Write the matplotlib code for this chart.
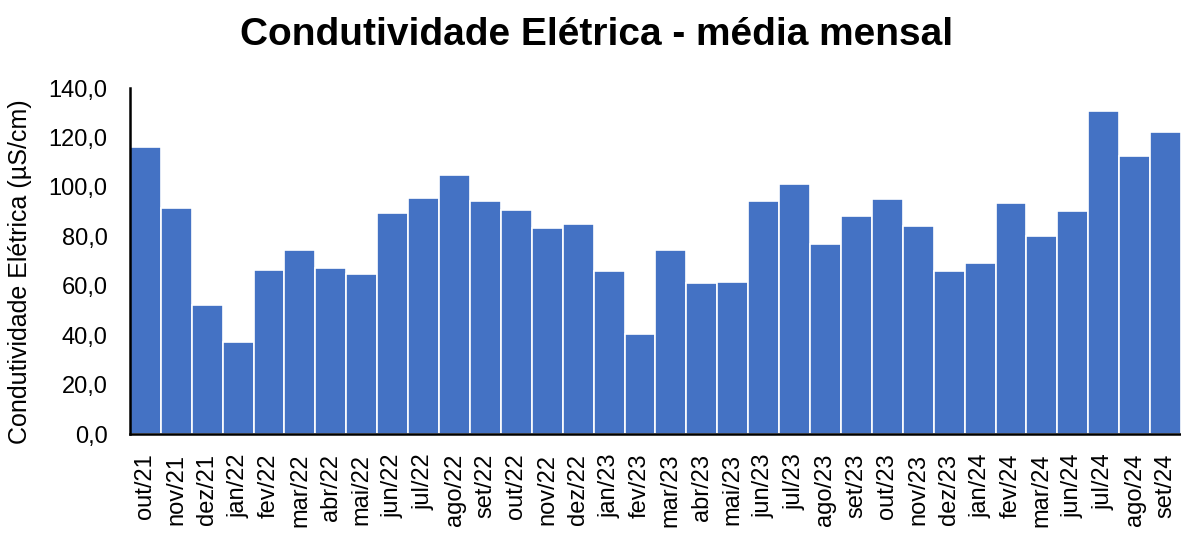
import matplotlib
matplotlib.use("Agg")
import matplotlib.pyplot as plt
from matplotlib.ticker import FuncFormatter

plt.rcParams['font.family'] = ['Liberation Sans', 'DejaVu Sans']

months = ["out/21", "nov/21", "dez/21",
          "jan/22", "fev/22", "mar/22", "abr/22", "mai/22", "jun/22", "jul/22", "ago/22", "set/22", "out/22", "nov/22", "dez/22",
          "jan/23", "fev/23", "mar/23", "abr/23", "mai/23", "jun/23", "jul/23", "ago/23", "set/23", "out/23", "nov/23", "dez/23",
          "jan/24", "fev/24", "mar/24", "jun/24", "jul/24", "ago/24", "set/24"]
values = [116.3, 91.6, 52.1,
          37.1, 66.4, 74.5, 67.3, 64.7, 89.4, 95.5, 104.8, 94.3, 90.5, 83.5, 85.1,
          65.8, 40.6, 74.6, 61.0, 61.5, 94.4, 101.0, 76.9, 88.3, 95.0, 84.0, 65.8,
          69.1, 93.4, 80.3, 90.1, 130.7, 112.5, 122.3]
yticks = [0, 20, 40, 60, 80, 100, 120, 140]

fig = plt.figure(figsize=(11.81, 5.40), dpi=100)
ax = fig.add_axes([0.110, 0.196, 0.890, 0.641])
x = list(range(len(months)))
ax.bar(x, values, width=1.0, color="#4472C4", edgecolor="white", linewidth=1.2)
ax.set_xlim(-0.5, len(months) - 0.5)
ax.set_ylim(0, 140)
ax.set_yticks(yticks)
ax.yaxis.set_major_formatter(FuncFormatter(lambda v, p: f"{v:.1f}".replace(".", ",")))
ax.set_xticks(x)
ax.set_xticklabels(months, rotation=90, fontsize=17)
ax.tick_params(axis='y', labelsize=17, length=0, pad=16)
ax.tick_params(axis='x', length=0, pad=14)
for s in ["top", "right"]:
    ax.spines[s].set_visible(False)
ax.spines["left"].set_linewidth(1.8)
ax.spines["bottom"].set_linewidth(1.8)
fig.text(20.5 / 1181, 1 - 272 / 540, "Condutividade Elétrica (µS/cm)", fontsize=18,
         rotation=90, ha="center", va="center")
fig.text(0.5055, 1 - 45 / 540, "Condutividade Elétrica - média mensal", fontsize=28,
         fontweight="bold", ha="center", va="baseline")
fig.savefig("out.png", dpi=100)
